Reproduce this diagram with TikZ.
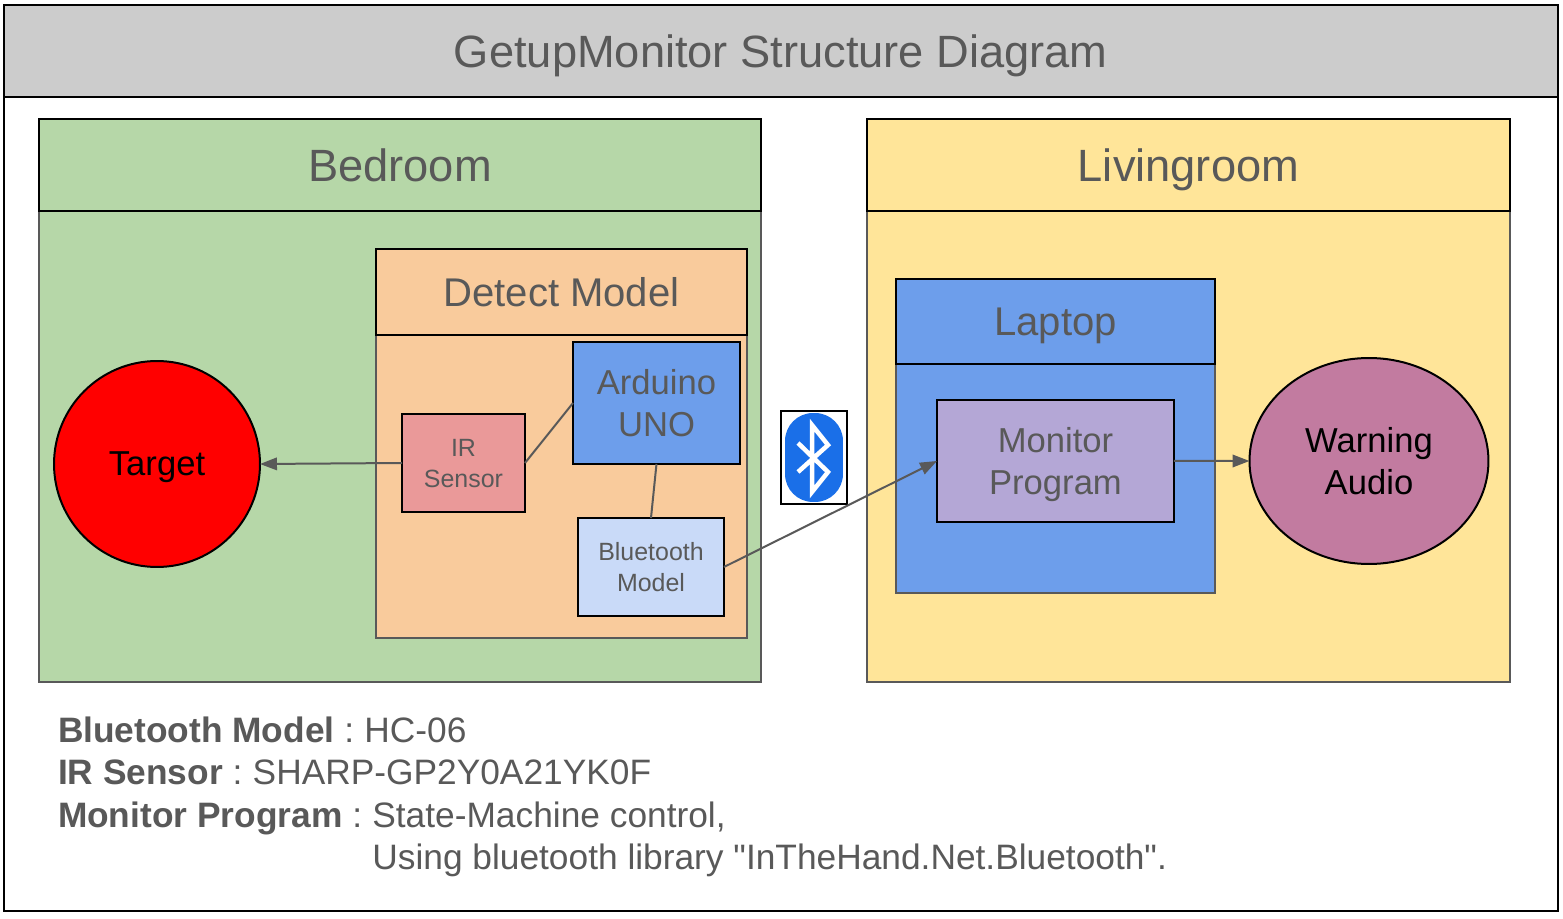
\documentclass[tikz,border=0pt]{standalone}
\usepackage{fontspec}
\setmainfont[Ligatures=TeXOff]{Liberation Sans}
\usetikzlibrary{arrows.meta,positioning,shapes.geometric}
\definecolor{txtgray}{HTML}{595959}
\definecolor{titlegray}{HTML}{CCCCCC}
\definecolor{bedgreen}{HTML}{B6D7A8}
\definecolor{livyellow}{HTML}{FFE599}
\definecolor{detorange}{HTML}{F9CB9C}
\definecolor{unoblue}{HTML}{6D9EEB}
\definecolor{irred}{HTML}{EA9999}
\definecolor{btblue}{HTML}{C9DAF8}
\definecolor{progpurple}{HTML}{B4A7D6}
\definecolor{audiopink}{HTML}{C27BA0}
\definecolor{logoblue}{HTML}{1A6FE8}
\begin{document}
\begin{tikzpicture}[x=0.02cm, y=-0.02cm, line width=0.04cm,
    box/.style={draw=black, anchor=north west, align=center, inner sep=0pt, outer sep=0pt, text=txtgray, text depth=0pt},
    room/.style={box, draw=txtgray},
    big/.style={font=\fontsize{25.75}{30}\selectfont},
    mid/.style={font=\fontsize{22.8}{27}\selectfont},
    lbl/.style={font=\fontsize{19.7}{24.2}\selectfont},
    small/.style={font=\fontsize{14.2}{17.6}\selectfont},
    arr/.style={draw=txtgray, -{Triangle[length=0.34cm, width=0.25cm]}},
    wire/.style={draw=txtgray}]
    \useasboundingbox (0,0) rectangle (1563,919);
    % frame and title
    \node[box, fill=white, minimum width=31.08cm, minimum height=18.12cm] (frame) at (4,5) {};
    \node[box, big, fill=titlegray, minimum width=31.08cm, minimum height=1.84cm] (title) at (4,5) {GetupMonitor Structure Diagram};
    % bedroom
    \node[room, fill=bedgreen, minimum width=14.44cm, minimum height=11.26cm] (bedroom) at (39,119) {};
    \node[box, big, fill=bedgreen, minimum width=14.44cm, minimum height=1.84cm] (bedhead) at (39,119) {Bedroom};
    \node[circle, draw=black, fill=red, minimum size=4.12cm, inner sep=0pt, outer sep=0pt, text depth=0pt, lbl] (target) at (157,464) {Target};
    \node[room, fill=detorange, minimum width=7.42cm, minimum height=7.78cm] (detect) at (376,249) {};
    \node[box, mid, fill=detorange, minimum width=7.42cm, minimum height=1.72cm] (dethead) at (376,249) {Detect Model};
    \node[box, lbl, fill=unoblue, minimum width=3.34cm, minimum height=2.44cm] (uno) at (573,342) {Arduino\\UNO};
    \node[box, small, fill=irred, minimum width=2.46cm, minimum height=1.96cm] (ir) at (402,414) {IR\\Sensor};
    \node[box, small, fill=btblue, minimum width=2.92cm, minimum height=1.96cm] (bt) at (578,518) {Bluetooth\\Model};
    % livingroom
    \node[room, fill=livyellow, minimum width=12.86cm, minimum height=11.26cm] (living) at (867,119) {};
    \node[box, big, fill=livyellow, minimum width=12.86cm, minimum height=1.84cm] (livhead) at (867,119) {Livingroom};
    \node[room, fill=unoblue, minimum width=6.38cm, minimum height=6.28cm] (laptop) at (896,279) {};
    \node[box, mid, fill=unoblue, minimum width=6.38cm, minimum height=1.7cm] (laphead) at (896,279) {Laptop};
    \node[box, lbl, fill=progpurple, minimum width=4.74cm, minimum height=2.44cm] (prog) at (937,400) {Monitor\\Program};
    \node[ellipse, draw=black, fill=audiopink, minimum width=4.78cm, minimum height=4.12cm, inner sep=0pt, outer sep=0pt, align=center, lbl] (audio) at (1369,461) {Warning\\Audio};
    % bluetooth icon
    \node[box, fill=white, minimum width=1.32cm, minimum height=1.86cm] (logobox) at (781,411) {};
    \node[box, draw=none, fill=logoblue, rounded corners=0.56cm, minimum width=1.16cm, minimum height=1.78cm] (logo) at (785,413) {};
    \draw[white, line width=0.09cm, miter limit=10] (798,443) -- (828,472) -- (812,492) -- (812,425) -- (828,445) -- (798,472);
    % connectors
    \draw[arr] (ir.west) -- (target.east);
    \draw[wire] (ir.east) -- (uno.west);
    \draw[wire] (uno.south) -- (bt.north);
    \draw[arr] (bt.east) -- (prog.west);
    \draw[arr] (prog.east) -- (audio.west);
    % notes
    \node[anchor=north west, align=left, inner sep=0pt, text=txtgray, font=\fontsize{20.1}{24.1}\selectfont] (notes) at (57,716) {\textbf{Bluetooth Model} :\kern-1.6pt{} HC-06\\
      \textbf{IR Sensor} :\kern-1.6pt{} SHARP-GP2Y0A21YK0F\\
      \textbf{Monitor Program} :\kern-1.6pt{} State-Machine control,\\
      \phantom{\textbf{Monitor Program} :\kern-1.6pt{} }Using bluetooth library "InTheHand.Net.Bluetooth".};
\end{tikzpicture}
\end{document}
